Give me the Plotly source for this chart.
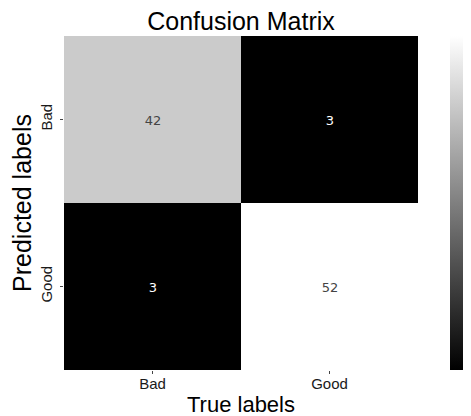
import plotly.graph_objects as go

true_labels = ["Bad", "Good"]
pred_labels = ["Bad", "Good"]
counts = [[42, 3], [3, 52]]
cbar_ticks = [10, 20, 30, 40, 50]
zmin, zmax = 3, 52

# page body has an 8px margin, so figure coords = window coords - 8
OFF = 8
W, H = 471, 416
L = 64 - OFF
T = 36 - OFF
R = 0
B = H - (370 - OFF)
paper_w = W - L - R
heat_right = (418 - OFF - L) / paper_w   # heatmap occupies left part of paper

def px(xwin):
    return (xwin - OFF - L) / paper_w

fig = go.Figure(go.Heatmap(
    z=counts, x=true_labels, y=pred_labels,
    colorscale=[[0, "#000000"], [1, "#ffffff"]],
    zmin=zmin, zmax=zmax,
    texttemplate="%{z}",
    textfont=dict(family="DejaVu Sans", size=13),
    colorbar=dict(
        x=px(450), xanchor="left", xref="paper",
        thickness=17, lenmode="pixels", len=334, xpad=0, ypad=0,
        y=0.5, yanchor="middle",
        outlinewidth=0, ticks="", showticklabels=False,
    ),
))
# invisible helper trace so the colour-bar tick axis is drawn
fig.add_trace(go.Scatter(x=[None], y=[None], xaxis="x2", yaxis="y2",
                         showlegend=False, hoverinfo="skip"))

fig.update_layout(
    width=W, height=H,
    margin=dict(l=L, r=R, t=T, b=B, autoexpand=False),
    paper_bgcolor="white", plot_bgcolor="rgba(0,0,0,0)",
    title=dict(text="Confusion Matrix", x=(241 - OFF) / W, xanchor="center",
               y=1 - (21 - OFF) / H, yanchor="middle",
               font=dict(family="Liberation Sans", size=25, color="#000")),
    font=dict(family="Liberation Sans", color="#000"),
    xaxis=dict(domain=[0, heat_right],
               title=dict(text="True labels", font=dict(size=22), standoff=5),
               ticks="outside", ticklen=3, tickcolor="#444", ticklabelstandoff=-3,
               tickfont=dict(size=15, color="#1a1a1a"), showgrid=False, zeroline=False),
    yaxis=dict(title=dict(text="Predicted labels", font=dict(size=25), standoff=6),
               autorange="reversed", tickangle=-90,
               ticks="outside", ticklen=3, tickcolor="#444", ticklabelstandoff=2,
               tickfont=dict(size=15, color="#1a1a1a"), showgrid=False, zeroline=False),
    xaxis2=dict(domain=[px(440), px(456)], anchor="y2", visible=False),
    yaxis2=dict(anchor="free", overlaying="y", side="right", position=px(456),
                range=[zmin, zmax], tickvals=cbar_ticks,
                ticks="outside", ticklen=3, tickcolor="#000", tickwidth=1,
                ticklabelstandoff=-8,
                tickfont=dict(family="Liberation Sans", size=10, color="#000", weight="bold"),
                showgrid=False, zeroline=False, showline=False),
)

fig.write_html("out.html")
